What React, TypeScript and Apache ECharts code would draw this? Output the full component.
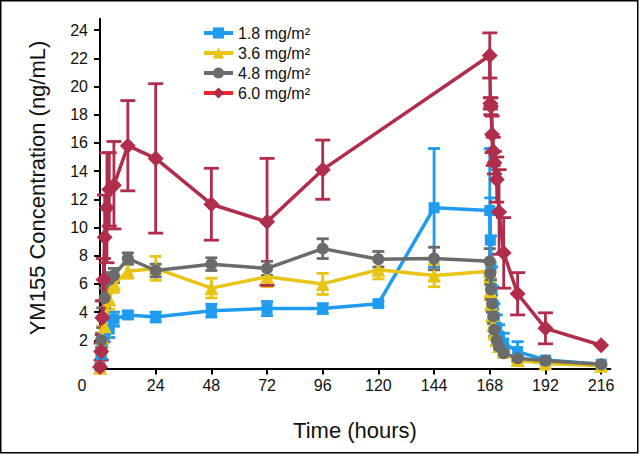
import React, { useEffect, useRef } from 'react';
import * as echarts from 'echarts';

const xTicks = [24, 48, 72, 96, 120, 144, 168, 192, 216];
const yTicks = [2, 4, 6, 8, 10, 12, 14, 16, 18, 20, 22, 24];

const seriesNames = ['1.8 mg/m²', '3.6 mg/m²', '4.8 mg/m²', '6.0 mg/m²'];

// 1.8 mg/m2
const blueT = [0, 0.5, 1, 2, 4, 6, 12, 24, 48, 72, 96, 120, 144, 168, 168.25, 168.5, 169, 169.5, 170, 171, 172, 174, 180, 192, 216];
const blueV = [0.1, 1.0, 2.0, 2.4, 2.8, 3.5, 3.8, 3.65, 4.1, 4.25, 4.25, 4.6, 11.4, 11.2, 9.1, 7.2, 5.6, 4.5, 3.6, 2.9, 2.3, 1.8, 1.2, 0.6, 0.3];
const blueE = [0, 0.3, 0.5, 0.5, 0.6, 0.5, 0.25, 0.35, 0.45, 0.5, 0.35, 0.2, 4.2, 4.4, 3.0, 2.2, 1.6, 1.3, 1.0, 0.9, 0.8, 0.7, 0.7, 0.15, 0.08];

// 3.6 mg/m2
const yellowT = [0, 0.5, 1, 2, 4, 6, 12, 24, 48, 72, 96, 120, 144, 168, 168.25, 168.5, 169, 169.5, 170, 171, 172, 174, 180, 192, 216];
const yellowV = [0.05, 1.5, 2.2, 3.0, 4.9, 6.0, 6.9, 7.1, 5.7, 6.5, 6.0, 7.0, 6.6, 6.9, 5.5, 4.6, 3.8, 3.1, 2.5, 2.0, 1.6, 1.2, 0.6, 0.35, 0.2];
const yellowE = [0, 0.6, 0.8, 0.8, 0.7, 0.6, 0.5, 0.85, 0.7, 0.7, 0.75, 0.65, 0.8, 0.7, 0.6, 0.5, 0.5, 0.4, 0.4, 0.35, 0.3, 0.3, 0.2, 0.1, 0.05];

// 4.8 mg/m2
const grayT = [0, 0.5, 1, 2, 4, 6, 12, 24, 48, 72, 96, 120, 144, 168, 168.25, 168.5, 169, 169.5, 170, 171, 172, 174, 180, 192, 216];
const grayV = [0.1, 2.0, 3.6, 5.0, 6.3, 6.6, 7.8, 6.95, 7.4, 7.1, 8.5, 7.75, 7.8, 7.6, 6.75, 5.6, 4.6, 3.7, 2.75, 2.0, 1.55, 1.08, 0.72, 0.55, 0.3];
const grayE = [0, 0.5, 0.7, 0.7, 0.5, 0.5, 0.4, 0.45, 0.45, 0.5, 0.7, 0.55, 0.8, 0.9, 0.8, 0.7, 0.6, 0.5, 0.45, 0.35, 0.3, 0.25, 0.15, 0.1, 0.05];

// 6.0 mg/m2
const redT = [0, 0.5, 1, 1.5, 2, 3, 4, 6, 12, 24, 48, 72, 96, 168, 168.25, 168.5, 169, 169.5, 170, 171, 172, 174, 180, 192, 216];
const redV = [0.1, 1.2, 3.6, 6.3, 9.3, 11.4, 12.7, 13.0, 15.8, 14.9, 11.65, 10.4, 14.1, 22.2, 18.8, 18.6, 16.6, 15.4, 14.6, 13.4, 11.1, 8.2, 5.3, 2.85, 1.65];
const redE = [0, 0.6, 1.2, 1.5, 3.0, 3.9, 2.6, 3.1, 3.2, 5.3, 2.55, 4.5, 2.1, 1.6, 0.4, 0.6, 1.3, 1.0, 0.8, 1.6, 3.0, 2.5, 1.5, 1.1, 0];

const colors = ['#1f9bf0', '#e8c414', '#6b6b6b', '#b02d4b'];
const legendLineColors = ['#1f9bf0', '#e8c414', '#6b6b6b', '#f0262e'];
const symbols = ['rect', 'triangle', 'circle', 'diamond'];
const symbolSizes = [11, 14, 12, 16];
const capWidths = [12, 12, 12, 15];

const FONT = '"Liberation Sans", Arial, Helvetica, sans-serif';

function errSeries(idx: number, T: number[], V: number[], E: number[]) {
  const data = T.map((t, i) => [t, Math.max(0, V[i] - E[i]), V[i] + E[i], E[i]]).filter((d) => d[3] > 0);
  const color = colors[idx];
  const hw = capWidths[idx] / 2;
  return {
    type: 'custom',
    name: 'err' + idx,
    data,
    encode: { x: 0, y: [1, 2] },
    silent: true,
    clip: false,
    renderItem: (params: any, api: any) => {
      const lo = api.coord([api.value(0), api.value(1)]);
      const hi = api.coord([api.value(0), api.value(2)]);
      const style = { stroke: color, lineWidth: 2.8, fill: null };
      return {
        type: 'group',
        children: [
          { type: 'line', shape: { x1: lo[0], y1: lo[1], x2: hi[0], y2: hi[1] }, style },
          { type: 'line', shape: { x1: lo[0] - hw, y1: lo[1], x2: lo[0] + hw, y2: lo[1] }, style },
          { type: 'line', shape: { x1: hi[0] - hw, y1: hi[1], x2: hi[0] + hw, y2: hi[1] }, style },
        ],
      };
    },
  };
}

function lineSeries(idx: number, T: number[], V: number[]) {
  return {
    type: 'line',
    name: seriesNames[idx],
    data: T.map((t, i) => [t, V[i]]),
    symbol: symbols[idx],
    symbolSize: symbolSizes[idx],
    showAllSymbol: true,
    clip: false,
    lineStyle: { color: colors[idx], width: 3.5 },
    itemStyle: { color: colors[idx] },
  };
}

export default function App() {
  const ref = useRef<HTMLDivElement>(null);
  useEffect(() => {
    if (!ref.current) return;
    const chart = echarts.init(ref.current, undefined, { renderer: 'svg' });
    const sets: [number[], number[], number[]][] = [
      [blueT, blueV, blueE],
      [yellowT, yellowV, yellowE],
      [grayT, grayV, grayE],
      [redT, redV, redE],
    ];
    const series: any[] = [];
    sets.forEach((s, i) => {
      series.push(errSeries(i, s[0], s[1], s[2]));
      series.push(lineSeries(i, s[0], s[1]));
    });
    chart.setOption({
      animation: false,
      backgroundColor: '#ffffff',
      grid: { left: 100, right: 29.6, top: 18.8, bottom: 85.5, containLabel: false },
      legend: {
        orient: 'vertical',
        left: 202,
        top: 25,
        padding: 0,
        itemWidth: 29,
        itemHeight: 14,
        itemGap: 4,
        textStyle: { fontFamily: FONT, fontSize: 16, color: '#111', lineHeight: 16 },
        data: seriesNames.map((n, i) => ({ name: n, lineStyle: { color: legendLineColors[i], width: 4 } })),
      },
      xAxis: {
        type: 'value',
        min: 0,
        max: 220,
        interval: 24,
        splitLine: { show: false },
        axisLine: { show: true, onZero: false, lineStyle: { color: '#000', width: 2 } },
        axisTick: { show: true, length: 6, lineStyle: { color: '#000', width: 2 }, customValues: xTicks },
        axisLabel: { customValues: xTicks, margin: 9, fontFamily: FONT, fontSize: 16, color: '#111' },
      },
      yAxis: {
        type: 'value',
        min: 0,
        max: 24.8,
        interval: 2,
        splitLine: { show: false },
        axisLine: { show: true, onZero: false, lineStyle: { color: '#000', width: 2 } },
        axisTick: { show: true, length: 6, lineStyle: { color: '#000', width: 2 }, customValues: yTicks },
        axisLabel: { customValues: yTicks, margin: 12, fontFamily: FONT, fontSize: 16, color: '#111' },
      },
      graphic: [
        {
          type: 'rect',
          shape: { x: 0.75, y: 0.75, width: 637, height: 452 },
          style: { fill: null, stroke: '#000', lineWidth: 1.5 },
          silent: true,
        },
        {
          type: 'text',
          x: 82,
          y: 385,
          style: { text: '0', font: '16px ' + FONT, fill: '#111', align: 'center', verticalAlign: 'middle' },
        },
        {
          type: 'text',
          x: 355,
          y: 430,
          style: { text: 'Time (hours)', font: '22px ' + FONT, fill: '#111', align: 'center', verticalAlign: 'middle' },
        },
        {
          type: 'text',
          x: 37,
          y: 188,
          rotation: Math.PI / 2,
          style: { text: 'YM155 Concentration (ng/mL)', font: '22px ' + FONT, fill: '#111', align: 'center', verticalAlign: 'middle' },
        },
      ],
      series,
    });
    return () => chart.dispose();
  }, []);
  return <div ref={ref} style={{ position: 'fixed', left: 0, top: 0, width: 640, height: 454, background: '#fff' }} />;
}
